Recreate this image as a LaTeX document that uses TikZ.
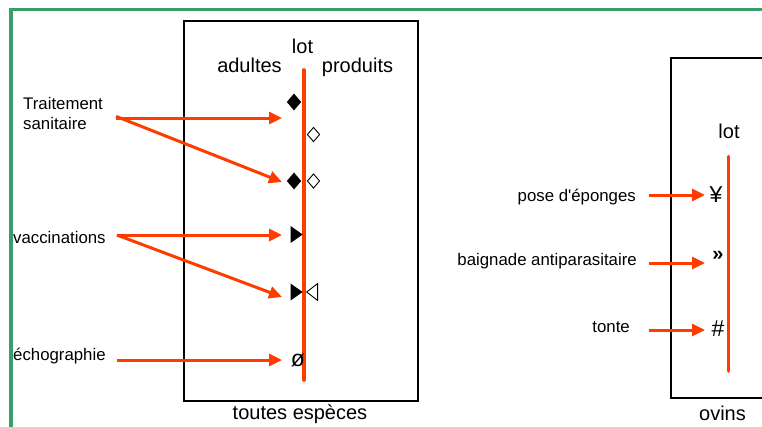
\documentclass[tikz,border=0pt]{standalone}
\usepackage{fontspec}
\setmainfont{Liberation Sans}
\usetikzlibrary{arrows.meta, shapes.geometric}

\definecolor{flame}{RGB}{255,60,0}
\definecolor{edge}{RGB}{58,158,107}

\tikzset{
  big/.style={font=\fontsize{20}{24}\selectfont, inner sep=0pt},
  small/.style={font=\fontsize{16.8}{20}\selectfont, inner sep=0pt, align=left},
  act/.style={draw=flame, line width=3pt, -{Triangle[length=13pt, width=12pt]}},
  lotline/.style={draw=flame, line width=3.6pt, line cap=round},
  fulldiam/.style={diamond, fill=black, minimum width=14.5pt, minimum height=17pt, inner sep=0pt},
  opendiam/.style={diamond, draw=black, line width=0.9pt, minimum width=12.5pt, minimum height=14.5pt, inner sep=0pt},
  fulltri/.style={isosceles triangle, isosceles triangle stretches, fill=black, minimum width=17pt, minimum height=12pt, inner sep=0pt},
  opentri/.style={isosceles triangle, isosceles triangle stretches, shape border rotate=180, draw=black, line width=0.9pt, minimum width=17pt, minimum height=11pt, inner sep=0pt},
  sym/.style={font=\fontsize{23}{26}\selectfont, inner sep=0pt}
}

\begin{document}
\begin{tikzpicture}[x=1pt, y=-1pt]
  \useasboundingbox (0,0) rectangle (762,426);

  % frame and boxes
  \draw [edge, line width=3.5pt] (11,440) -- (11,9.5) -- (780,9.5);
  \draw [line width=1.3pt] (184,21) rectangle (418,401);
  \draw [line width=1.3pt] (780,58) -- (671,58) -- (671,398) -- (780,398);

  % lots
  \draw [lotline] (304,70) -- (304,380);
  \draw [lotline] (728.3,156.5) -- (728.3,371);

  % headings
  \node [big, anchor=base] (lotA) at (302.5,53.3) {lot};
  \node [big, anchor=base] (adultes) at (249.5,72.7) {adultes};
  \node [big, anchor=base] (produits) at (357.5,72.7) {produits};
  \node [big, anchor=base] (toutes) at (300,419) {toutes espèces};
  \node [big, anchor=base] (lotB) at (729,138.3) {lot};
  \node [big, anchor=base] (ovins) at (722.5,420) {ovins};

  % acts, all species
  \node [small, anchor=north west] (trait) at (23,97) {Traitement\\sanitaire};
  \node [small, anchor=base west] (vacc) at (13,243.3) {vaccinations};
  \node [small, anchor=base west] (echo) at (13,360.5) {échographie};

  \node [fulldiam] (dA) at (294,102) {};
  \node [opendiam] (dB) at (313.5,134.5) {};
  \node [fulldiam] (dC) at (294,181) {};
  \node [opendiam] (dD) at (313.5,181) {};
  \node [fulltri] (tA) at (295,234.5) {};
  \node [fulltri] (tB) at (295,292) {};
  \node [opentri] (tC) at (313.5,292) {};
  \node [sym] (oslash) at (298,360) {ø};

  \coordinate (traitTipA) at (282,118);
  \coordinate (traitTipB) at (282,182);
  \coordinate (vaccTipA) at (282,235);
  \coordinate (vaccTipB) at (282,297);
  \coordinate (echoTip) at (282,360);

  \draw [act] ([xshift=13pt]trait.east |- traitTipA) -- (traitTipA);
  \draw [act] ([xshift=13pt,yshift=-3pt]trait.east) -- (traitTipB);
  \draw [act] ([xshift=11pt]vacc.east |- vaccTipA) -- (vaccTipA);
  \draw [act] ([xshift=11pt]vacc.east |- vaccTipA) -- (vaccTipB);
  \draw [act] ([xshift=11pt]echo.east |- echoTip) -- (echoTip);

  % acts, sheep
  \node [small, anchor=base east] (pose) at (636,201) {pose d\textquotesingle éponges};
  \node [small, anchor=base east] (bain) at (637,265) {baignade antiparasitaire};
  \node [small, anchor=base east] (tonte) at (630,332) {tonte};

  \node [sym] (yen) at (716,194.5) {¥};
  \node [sym, font=\fontsize{20}{24}\selectfont\bfseries] (guill) at (718,256) {»};
  \node [sym] (hash) at (718,329) {\#};

  \coordinate (poseTip) at (705,195);
  \coordinate (bainTip) at (705,263);
  \coordinate (tonteTip) at (705,330);

  \draw [act] ([xshift=13pt]pose.east |- poseTip) -- (poseTip);
  \draw [act] ([xshift=12pt]bain.east |- bainTip) -- (bainTip);
  \draw [act] ([xshift=19pt]tonte.east |- tonteTip) -- (tonteTip);
\end{tikzpicture}
\end{document}
